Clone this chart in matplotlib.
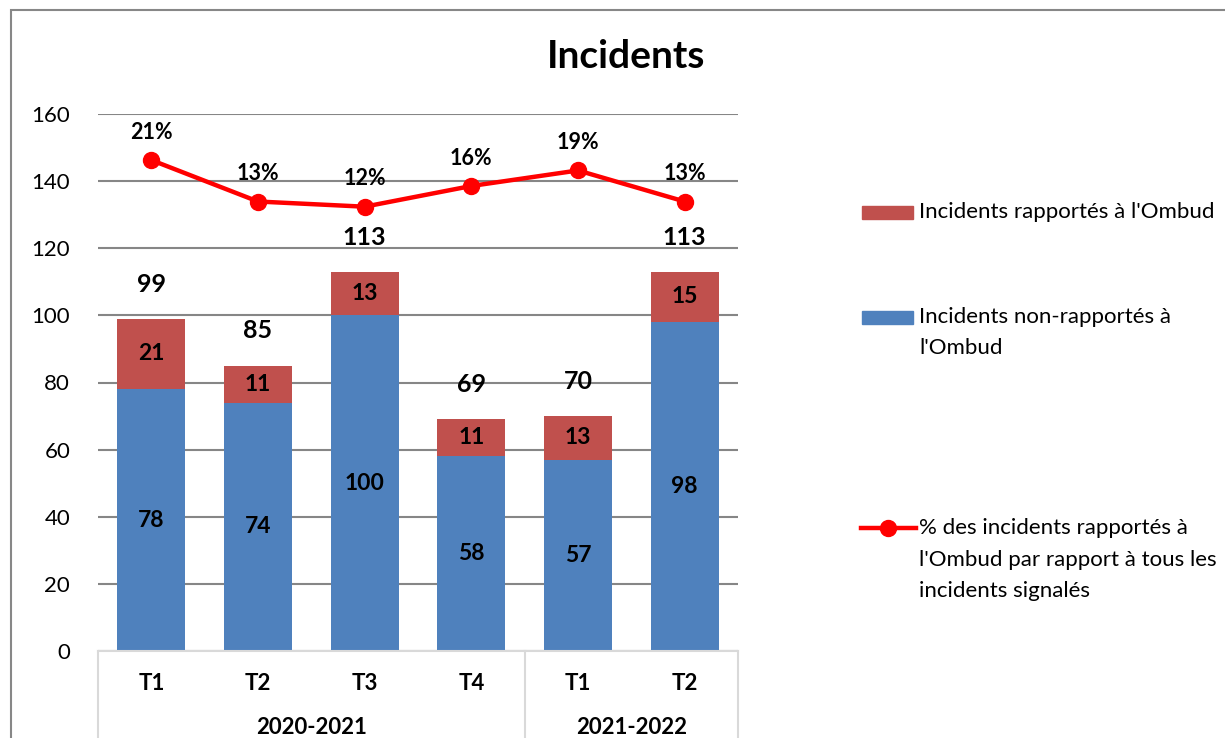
import matplotlib
matplotlib.use('Agg')
import matplotlib.pyplot as plt
from matplotlib.patches import Rectangle
from matplotlib.lines import Line2D
import matplotlib.transforms as mtransforms

plt.rcParams['font.family'] = ['Lato', 'DejaVu Sans']

# ---- data ----
quarters = ['T1', 'T2', 'T3', 'T4', 'T1', 'T2']
years = ['2020-2021', '2021-2022']
year_sizes = [4, 2]
non_reported = [78, 74, 100, 58, 57, 98]
reported = [21, 11, 13, 11, 13, 15]
totals = [99, 85, 113, 69, 70, 113]
pct_reported = [21, 13, 12, 16, 19, 13]

labels_legend = ["Incidents rapportés à l'Ombud",
                 "Incidents non-rapportés à\nl'Ombud",
                 "% des incidents rapportés à\nl'Ombud par rapport à tous les\nincidents signalés"]

BLUE = '#4F81BD'
RED = '#C0504D'
LINE = '#FF0000'

W, H = 1225, 738
fig = plt.figure(figsize=(W / 100, H / 100), dpi=100)
ax = fig.add_axes([98 / W, 1 - 651 / H, (738 - 98) / W, (651 - 114) / H])

x = list(range(len(quarters)))
ax.bar(x, non_reported, width=0.64, color=BLUE, zorder=2)
ax.bar(x, reported, bottom=non_reported, width=0.64, color=RED, zorder=2)
ax.set_xlim(-0.5, len(quarters) - 0.5)
ax.set_ylim(0, 160)
ax.set_yticks(range(0, 161, 20))
ax.set_axisbelow(True)
ax.yaxis.grid(True, color='#868686', lw=1.5)
for s in ['top', 'right', 'left']:
    ax.spines[s].set_visible(False)
ax.spines['bottom'].set_color('#D9D9D9')
ax.spines['bottom'].set_linewidth(1.5)
ax.tick_params(axis='y', length=0, pad=20, labelsize=16)
ax.set_xticks([])

# segment labels
for i in x:
    ax.text(i, non_reported[i] / 2, str(non_reported[i]), ha='center', va='center',
            fontsize=16.5, fontweight='bold', zorder=5)
    ax.text(i, non_reported[i] + reported[i] / 2, str(reported[i]), ha='center', va='center',
            fontsize=16.5, fontweight='bold', zorder=5)
    ax.annotate(str(totals[i]), (i, totals[i]), xytext=(0, 25), textcoords='offset points',
                ha='center', va='center', fontsize=18, fontweight='bold')

# category axis (two levels)
trans = mtransforms.blended_transform_factory(ax.transData, ax.transAxes)
axh = 651 - 114
for i, q in enumerate(quarters):
    ax.text(i, -33 / axh, q, transform=trans, ha='center', va='center',
            fontsize=16, fontweight='bold')
start = -0.5
bounds = [start]
for yname, n in zip(years, year_sizes):
    ax.text(start + n / 2, -76 / axh, yname, transform=trans, ha='center', va='center',
            fontsize=16, fontweight='bold')
    start += n
    bounds.append(start)
for b in bounds:
    ax.plot([b, b], [0, -0.2], transform=trans, color='#D9D9D9', lw=1.5, clip_on=False)

# secondary (hidden) axis for percentage line
ax2 = ax.twinx()
ax2.set_ylim(-73.8, 29.9)
ax2.plot(x, pct_reported, color=LINE, lw=3.2, marker='o', ms=11.5, zorder=3)
for i in x:
    ax2.annotate(f'{pct_reported[i]}%', (i, pct_reported[i]), xytext=(0, 20),
                 textcoords='offset points', ha='center', va='center',
                 fontsize=15.5, fontweight='bold')
ax2.axis('off')

# title
fig.text(626 / W, 1 - 57 / H, 'Incidents', ha='center', va='center',
         fontsize=28, fontweight='bold')

# outer frame
fig.add_artist(Rectangle((11 / W, -0.1), 1.2, (1 - 10 / H) + 0.1, transform=fig.transFigure,
                         fill=False, ec='#878787', lw=1.5))

# legend (manual)
fig.add_artist(Rectangle((862 / W, 1 - 219 / H), 51 / W, 13 / H, transform=fig.transFigure,
                         color=RED))
fig.add_artist(Rectangle((862 / W, 1 - 324 / H), 51 / W, 13 / H, transform=fig.transFigure,
                         color=BLUE))
fig.add_artist(Line2D([861 / W, 916 / W], [1 - 528 / H, 1 - 528 / H], transform=fig.transFigure,
                      color=LINE, lw=3.2))
fig.add_artist(Line2D([888 / W], [1 - 528 / H], transform=fig.transFigure,
                      color=LINE, marker='o', ms=11.5))
for lab, yfirst in zip(labels_legend, [212, 317, 528]):
    for k, line in enumerate(lab.split('\n')):
        fig.text(919 / W, 1 - (yfirst + 31.5 * k) / H, line, ha='left', va='center',
                 fontsize=16)

fig.savefig('out.png', dpi=100)
